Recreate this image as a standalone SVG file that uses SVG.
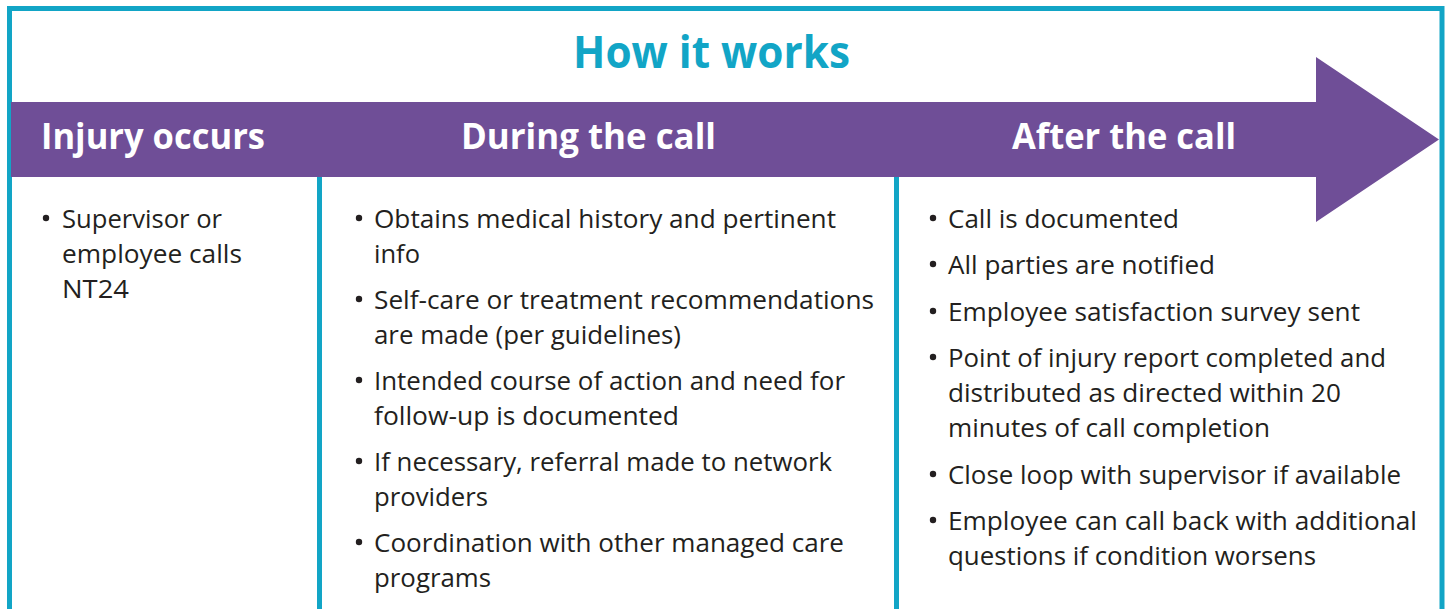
<svg xmlns="http://www.w3.org/2000/svg" width="1449" height="609" viewBox="0 0 1449 609">
<style>
.title{font-family:"Open Sans","Noto Sans",sans-serif;font-weight:700;font-size:44px;fill:#12a5c6}
.head{font-family:"Open Sans","Noto Sans",sans-serif;font-weight:700;font-size:35px;fill:#ffffff}
.body{font-family:"Open Sans","Noto Sans",sans-serif;font-size:26px;fill:#231f20}
.bul{fill:#231f20}
.rule{stroke:#12a5c6;stroke-width:5;fill:none}
</style>
<defs>
<circle id="dot" cx="0" cy="0" r="3.2"/>
</defs>
<rect x="0" y="0" width="1449" height="609" fill="#ffffff"/>
<g id="frame">
<path class="rule" d="M9.5,609 V8.5 H1442 V609"/>
</g>
<g id="title">
<text class="title" x="711.5" y="68" text-anchor="middle" textLength="277" lengthAdjust="spacingAndGlyphs">How it works</text>
</g>
<g id="arrow">
<polygon points="11,102 1316,102 1316,57 1439,139.5 1316,222 1316,177 11,177" fill="#6f4e97"/>
<text class="head" x="41" y="149" textLength="224" lengthAdjust="spacingAndGlyphs">Injury occurs</text>
<text class="head" x="461" y="149" textLength="255" lengthAdjust="spacingAndGlyphs">During the call</text>
<text class="head" x="1012" y="149" textLength="224" lengthAdjust="spacingAndGlyphs">After the call</text>
</g>
<g id="connectors">
<line class="rule" x1="319.5" y1="177" x2="319.5" y2="609"/>
<line class="rule" x1="896.5" y1="177" x2="896.5" y2="609"/>
</g>
<g id="col-injury">
<use href="#dot" class="bul" x="46" y="218"/>
<text class="body" x="62" y="228" textLength="160" lengthAdjust="spacingAndGlyphs">Supervisor or</text>
<text class="body" x="62" y="263" textLength="180" lengthAdjust="spacingAndGlyphs">employee calls</text>
<text class="body" x="62" y="298" textLength="67" lengthAdjust="spacingAndGlyphs">NT24</text>
</g>
<g id="col-during">
<use href="#dot" class="bul" x="359" y="218"/>
<text class="body" x="374" y="228" textLength="462" lengthAdjust="spacingAndGlyphs">Obtains medical history and pertinent</text>
<text class="body" x="374" y="263" textLength="46" lengthAdjust="spacingAndGlyphs">info</text>
<use href="#dot" class="bul" x="359" y="299"/>
<text class="body" x="374" y="309" textLength="500" lengthAdjust="spacingAndGlyphs">Self-care or treatment recommendations</text>
<text class="body" x="374" y="344" textLength="307" lengthAdjust="spacingAndGlyphs">are made (per guidelines)</text>
<use href="#dot" class="bul" x="359" y="380"/>
<text class="body" x="374" y="390" textLength="471" lengthAdjust="spacingAndGlyphs">Intended course of action and need for</text>
<text class="body" x="374" y="425" textLength="305" lengthAdjust="spacingAndGlyphs">follow-up is documented</text>
<use href="#dot" class="bul" x="359" y="461"/>
<text class="body" x="374" y="471" textLength="458" lengthAdjust="spacingAndGlyphs">If necessary, referral made to network</text>
<text class="body" x="374" y="506" textLength="114" lengthAdjust="spacingAndGlyphs">providers</text>
<use href="#dot" class="bul" x="359" y="542"/>
<text class="body" x="374" y="552" textLength="470" lengthAdjust="spacingAndGlyphs">Coordination with other managed care</text>
<text class="body" x="374" y="587" textLength="117" lengthAdjust="spacingAndGlyphs">programs</text>
</g>
<g id="col-after">
<use href="#dot" class="bul" x="933" y="218"/>
<text class="body" x="948" y="228" textLength="231" lengthAdjust="spacingAndGlyphs">Call is documented</text>
<use href="#dot" class="bul" x="933" y="264"/>
<text class="body" x="948" y="274" textLength="267" lengthAdjust="spacingAndGlyphs">All parties are notified</text>
<use href="#dot" class="bul" x="933" y="311"/>
<text class="body" x="948" y="321" textLength="412" lengthAdjust="spacingAndGlyphs">Employee satisfaction survey sent</text>
<use href="#dot" class="bul" x="933" y="357"/>
<text class="body" x="948" y="367" textLength="438" lengthAdjust="spacingAndGlyphs">Point of injury report completed and</text>
<text class="body" x="948" y="402" textLength="393" lengthAdjust="spacingAndGlyphs">distributed as directed within 20</text>
<text class="body" x="948" y="437" textLength="322" lengthAdjust="spacingAndGlyphs">minutes of call completion</text>
<use href="#dot" class="bul" x="933" y="474"/>
<text class="body" x="948" y="484" textLength="453" lengthAdjust="spacingAndGlyphs">Close loop with supervisor if available</text>
<use href="#dot" class="bul" x="933" y="520"/>
<text class="body" x="948" y="530" textLength="469" lengthAdjust="spacingAndGlyphs">Employee can call back with additional</text>
<text class="body" x="948" y="565" textLength="368" lengthAdjust="spacingAndGlyphs">questions if condition worsens</text>
</g>
</svg>
